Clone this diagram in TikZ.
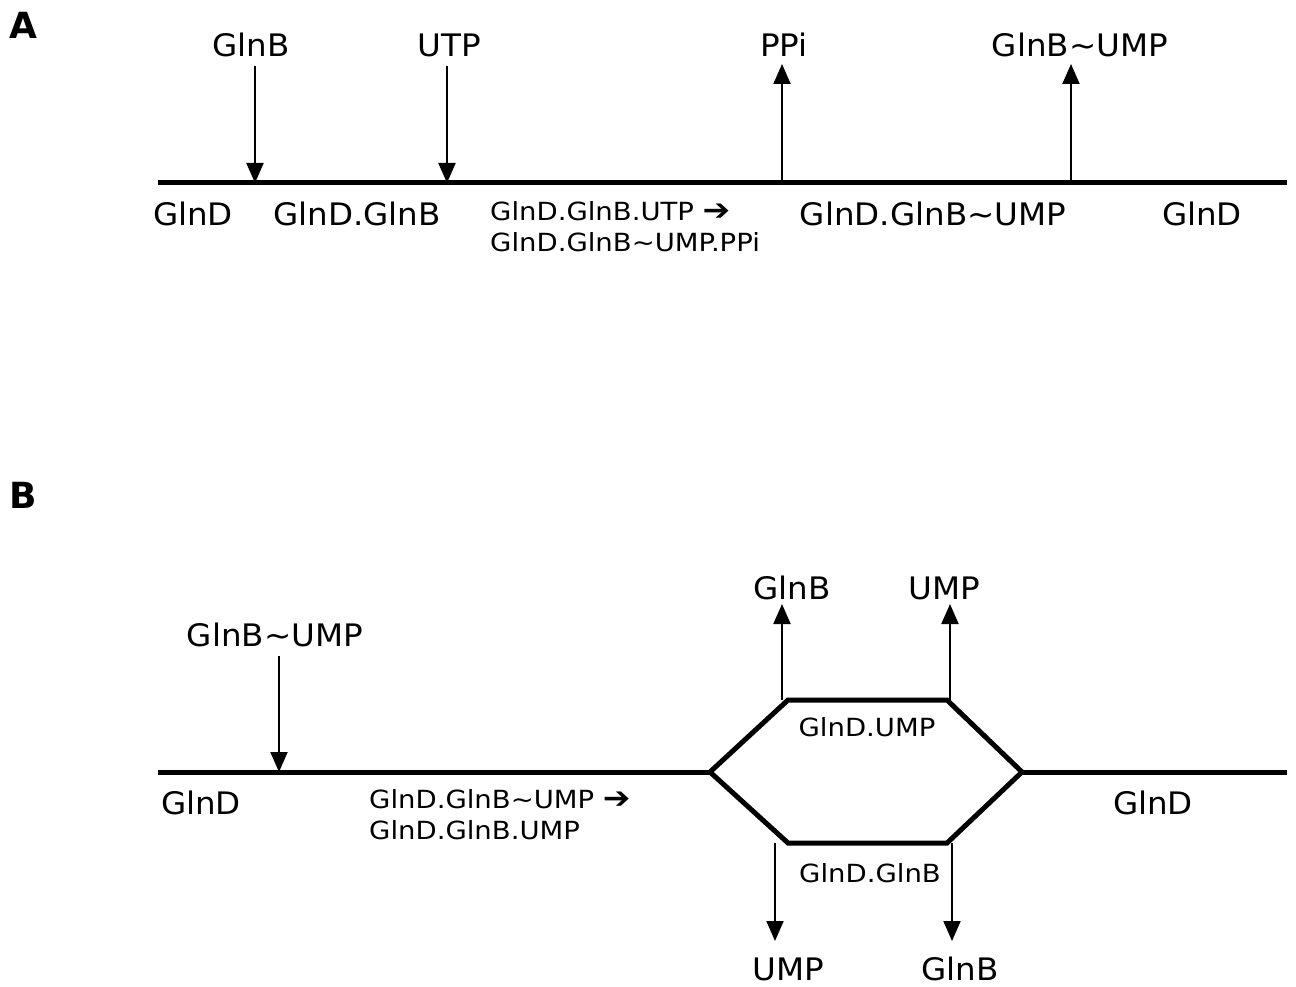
\documentclass[tikz,border=0pt]{standalone}
\usepackage{fontspec}
\setmainfont{DejaVu Sans}
\newfontfamily\widefont[FakeStretch=1.1]{DejaVu Sans}
\newfontfamily\bigwide[FakeStretch=1.05]{DejaVu Sans}
\usetikzlibrary{arrows.meta}
\newcommand{\harr}{{\fontsize{30}{30}\selectfont\bfseries ➔}}
\begin{document}
\begin{tikzpicture}[x=1pt,y=-1pt,
  big/.style={font=\bigwide\fontsize{31}{34}\selectfont, inner sep=0pt},
  small/.style={font=\widefont\fontsize{25}{31}\selectfont, inner sep=0pt, align=left},
  panel/.style={font=\fontsize{36}{38}\selectfont\bfseries, inner sep=0pt},
  thick line/.style={line width=5pt},
  flow/.style={line width=2pt, -{Triangle[length=20pt,width=17pt]}},
  tl/.style={line width=2pt}]
\useasboundingbox (0,0) rectangle (1296,987);
% ---------------- Panel A ----------------
\node[panel] (pa) at (23,25) {A};
\coordinate (a0) at (158,183);
\coordinate (a5) at (1287,183);
\draw[thick line] (a0) -- (a5);
\coordinate (a1) at (255,183);
\coordinate (a2) at (447,183);
\coordinate (a3) at (782,183);
\coordinate (a4) at (1071,183);
\node[big] (aglnb) at (251,45) {GlnB};
\node[big] (autp) at (449,45) {UTP};
\node[big] (appi) at (784,45) {PPi};
\node[big] (aglnbump) at (1080,45) {GlnB\textasciitilde UMP};
\coordinate (a1t) at (255,66);
\coordinate (a2t) at (447,66);
\coordinate (a3t) at (782,64);
\coordinate (a4t) at (1071,64);
\draw[flow] (a1t) -- (a1);
\draw[flow] (a2t) -- (a2);
\draw[flow] (a3) -- (a3t);
\draw[flow] (a4) -- (a4t);
\node[big] (ad1) at (193,214) {GlnD};
\node[big] (adb) at (357,214) {GlnD.GlnB};
\node[small, anchor=west] (autpr) at (490,227) {GlnD.GlnB.UTP \harr\\GlnD.GlnB\textasciitilde UMP.PPi};
\node[big] (adbump) at (933,214) {GlnD.GlnB\textasciitilde UMP};
\node[big] (ad2) at (1202,214) {GlnD};
% ---------------- Panel B ----------------
\node[panel] (pb) at (23,495) {B};
\coordinate (b0) at (158,772);
\coordinate (hl) at (710,772);
\coordinate (htl) at (788,700);
\coordinate (htr) at (947,700);
\coordinate (hr) at (1022,772);
\coordinate (hbl) at (788,843);
\coordinate (hbr) at (947,843);
\coordinate (b5) at (1287,772);
\draw[thick line] (b0) -- (hl);
\draw[thick line] (hr) -- (b5);
\draw[thick line, line join=miter] (hl) -- (htl) -- (htr) -- (hr) -- (hbr) -- (hbl) -- cycle;
\node[big] (bglnbump) at (275,635) {GlnB\textasciitilde UMP};
\coordinate (b1t) at (279,656);
\coordinate (b1) at (279,772);
\draw[flow] (b1t) -- (b1);
\node[big] (bd1) at (201,803) {GlnD};
\node[small, anchor=west] (bumpr) at (369,815) {GlnD.GlnB\textasciitilde UMP \harr\\GlnD.GlnB.UMP};
\node[big] (bd2) at (1153,803) {GlnD};
\node[small] (bdump) at (867,727) {GlnD.UMP};
\node[small] (bdglnb) at (870,873) {GlnD.GlnB};
% up arrows
\coordinate (u1b) at (782,700);
\coordinate (u1t) at (782,604);
\coordinate (u2b) at (950,700);
\coordinate (u2t) at (950,604);
\draw[flow] (u1b) -- (u1t);
\draw[flow] (u2b) -- (u2t);
\node[big] (bglnbu) at (792,588) {GlnB};
\node[big] (bumpu) at (944,588) {UMP};
% down arrows
\coordinate (d1t) at (775,843);
\coordinate (d1b) at (775,941);
\coordinate (d2t) at (952,843);
\coordinate (d2b) at (952,941);
\draw[flow] (d1t) -- (d1b);
\draw[flow] (d2t) -- (d2b);
\node[big] (bumpd) at (788,969) {UMP};
\node[big] (bglnbd) at (960,969) {GlnB};
\end{tikzpicture}
\end{document}
